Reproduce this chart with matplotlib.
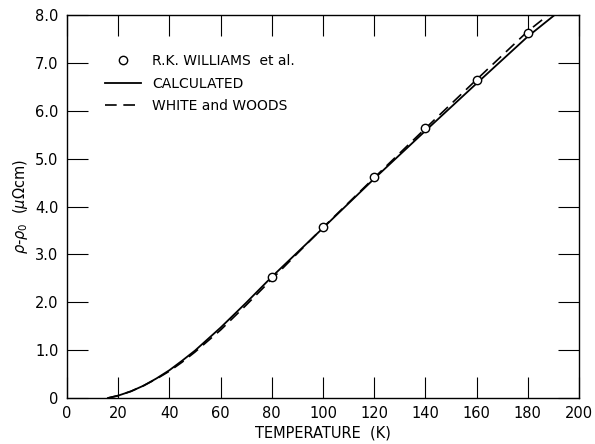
import matplotlib

matplotlib.use("Agg")

import matplotlib.pyplot as plt

# measured points (R.K. Williams et al.)
meas_t = [80, 100, 120, 140, 160, 180]
meas_r = [2.52, 3.57, 4.62, 5.65, 6.65, 7.62]

# calculated curve
calc_t = [16, 20, 25, 30, 35, 40, 45, 50, 60, 70, 80, 90, 100, 120, 140, 160, 180, 190.5]
calc_r = [0.0, 0.05, 0.14, 0.26, 0.41, 0.58, 0.78, 0.99, 1.47, 1.99, 2.53, 3.04, 3.55, 4.58, 5.58, 6.57, 7.55, 8.0]

# White and Woods
ww_t = [16, 20, 25, 30, 35, 40, 45, 50, 60, 70, 80, 90, 100, 120, 140, 160, 180, 188]
ww_r = [0.0, 0.05, 0.14, 0.26, 0.40, 0.56, 0.75, 0.96, 1.42, 1.94, 2.48, 3.02, 3.56, 4.60, 5.63, 6.65, 7.66, 8.0]

x_ticks = list(range(0, 201, 20))
y_ticks = [0, 1, 2, 3, 4, 5, 6, 7, 8]
y_labels = ["0", "1.0", "2.0", "3.0", "4.0", "5.0", "6.0", "7.0", "8.0"]

plt.rcParams["font.family"] = ["DejaVu Sans"]

fig = plt.figure(figsize=(5.95, 4.44), dpi=100)
ax = fig.add_axes([0.1126, 0.1036, 0.8604, 0.8626])

ax.plot(calc_t, calc_r, color="black", linewidth=1.3, label="CALCULATED", zorder=2)
ax.plot(ww_t, ww_r, color="black", linewidth=1.2, linestyle=(0, (7, 4)),
        label="WHITE and WOODS", zorder=2)
ax.plot(meas_t, meas_r, linestyle="none", marker="o", markersize=6,
        markerfacecolor="white", markeredgecolor="black", markeredgewidth=1.0,
        label="R.K. WILLIAMS  et al.", zorder=3)

ax.set_xlim(0, 200)
ax.set_ylim(0, 8)
ax.set_xticks(x_ticks)
ax.set_yticks(y_ticks)
ax.set_yticklabels(y_labels)
ax.tick_params(direction="in", length=15, width=0.8, top=True, right=True,
               labelsize=10.5, pad=6)
for s in ax.spines.values():
    s.set_linewidth(1.0)

ax.set_xlabel("TEMPERATURE  (K)", fontsize=10.5, labelpad=3)
ax.set_ylabel(r"$\rho$-$\rho_0$  ($\mu\Omega$cm)", fontsize=10.5, labelpad=4)

handles, labels = ax.get_legend_handles_labels()
order = [2, 0, 1]
ax.legend([handles[i] for i in order], [labels[i] for i in order],
          loc="upper left", bbox_to_anchor=(0.05, 0.93), frameon=False,
          fontsize=10, handlelength=2.6, labelspacing=0.6, handletextpad=0.8)

fig.savefig("out.png", dpi=100)
plt.close(fig)
